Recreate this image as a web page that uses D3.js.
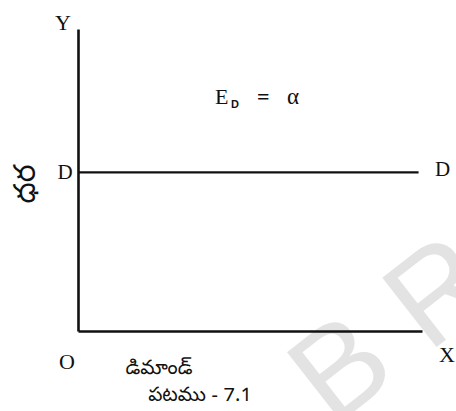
<!DOCTYPE html>
<html lang="te">
<head>
<meta charset="UTF-8"/>
<title>పటము 7.1</title>
<script src="https://d3js.org/d3.v7.min.js"></script>
<style>
  body { margin: 0; background: #fff; }
  text { font-family: "Liberation Serif", "DejaVu Serif", serif; fill: #111; }
  .te { font-family: "Noto Sans Telugu", "Noto Serif Telugu", "Pothana2000", "Gidugu", sans-serif; }
  .axis path { stroke: #111; stroke-width: 2.6; fill: none; }
</style>
</head>
<body>
<div id="chart"></div>
<script>
// perfectly elastic demand: price stays the same for every quantity
var quantity = [0, 9.9];
var price = [5.25, 5.25];
var axisLabels = ["Y", "X", "O"];
var curveName = "D";
var elasticity = ["E", "D", "=", "α"];
var xTitle = "డిమాండ్";
var yTitle = "ధర";
var caption = "పటము - 7.1";

var W = 456, H = 411;
var svg = d3.select("#chart").append("svg")
    .attr("width", W).attr("height", H);

var x = d3.scaleLinear().domain([0, 10]).range([78, 422]);
var y = d3.scaleLinear().domain([0, 10]).range([331, 29]);

// faint watermark behind the drawing
svg.append("text")
    .attr("transform", "translate(333,428) rotate(-38)")
    .style("font-family", "Liberation Sans, sans-serif")
    .style("font-size", "128px")
    .style("fill", "#e3e3e3")
    .text("B R");

// axes, no ticks
svg.append("g").attr("class", "axis")
    .attr("transform", "translate(" + x(0) + ",0)")
    .call(d3.axisLeft(y).tickValues([]).tickSizeOuter(0));
svg.append("g").attr("class", "axis")
    .attr("transform", "translate(0," + y(0) + ")")
    .call(d3.axisBottom(x).tickValues([]).tickSizeOuter(0));

// demand line
var line = d3.line()
    .x(function(d, i) { return x(quantity[i]); })
    .y(function(d, i) { return y(price[i]); });
svg.append("path")
    .datum(quantity)
    .attr("d", line)
    .attr("stroke", "#111")
    .attr("stroke-width", 2.2)
    .attr("fill", "none");

// axis letters
svg.append("text").attr("x", x(0) - 15).attr("y", y(10) + 1)
    .attr("text-anchor", "middle").style("font-size", "22px").text(axisLabels[0]);
svg.append("text").attr("x", x(10) + 25).attr("y", y(0) + 31)
    .attr("text-anchor", "middle").style("font-size", "22px").text(axisLabels[1]);
svg.append("text").attr("x", x(0) - 11).attr("y", y(0) + 38)
    .attr("text-anchor", "middle").style("font-size", "22px").text(axisLabels[2]);

// curve labels on both ends
svg.append("text").attr("x", x(0) - 13).attr("y", y(price[0]) + 7)
    .attr("text-anchor", "middle").style("font-size", "21px").text(curveName);
svg.append("text").attr("x", x(quantity[1]) + 24).attr("y", y(price[1]) + 4)
    .attr("text-anchor", "middle").style("font-size", "21px").text(curveName);

// E_D = α
var e = svg.append("text").attr("y", 104).style("font-size", "22px");
e.append("tspan").attr("x", 215).text(elasticity[0]);
e.append("tspan").attr("x", 231).attr("dy", 4).style("font-size", "11px")
    .style("font-family", "Liberation Sans, sans-serif")
    .style("font-weight", "bold").text(elasticity[1]);
e.append("tspan").attr("x", 257).attr("dy", -4).style("font-weight", "bold").text(elasticity[2]);
e.append("tspan").attr("x", 287).style("font-size", "23px").text(elasticity[3]);

// Telugu titles
svg.append("text").attr("class", "te")
    .attr("transform", "translate(35,184) rotate(-90)")
    .attr("text-anchor", "middle").style("font-size", "30px").text(yTitle);
svg.append("text").attr("class", "te")
    .attr("x", 159).attr("y", 374)
    .attr("text-anchor", "middle").style("font-size", "20px").text(xTitle);
svg.append("text").attr("class", "te")
    .attr("x", 200).attr("y", 401)
    .attr("text-anchor", "middle").style("font-size", "20px").text(caption);
</script>
</body>
</html>
